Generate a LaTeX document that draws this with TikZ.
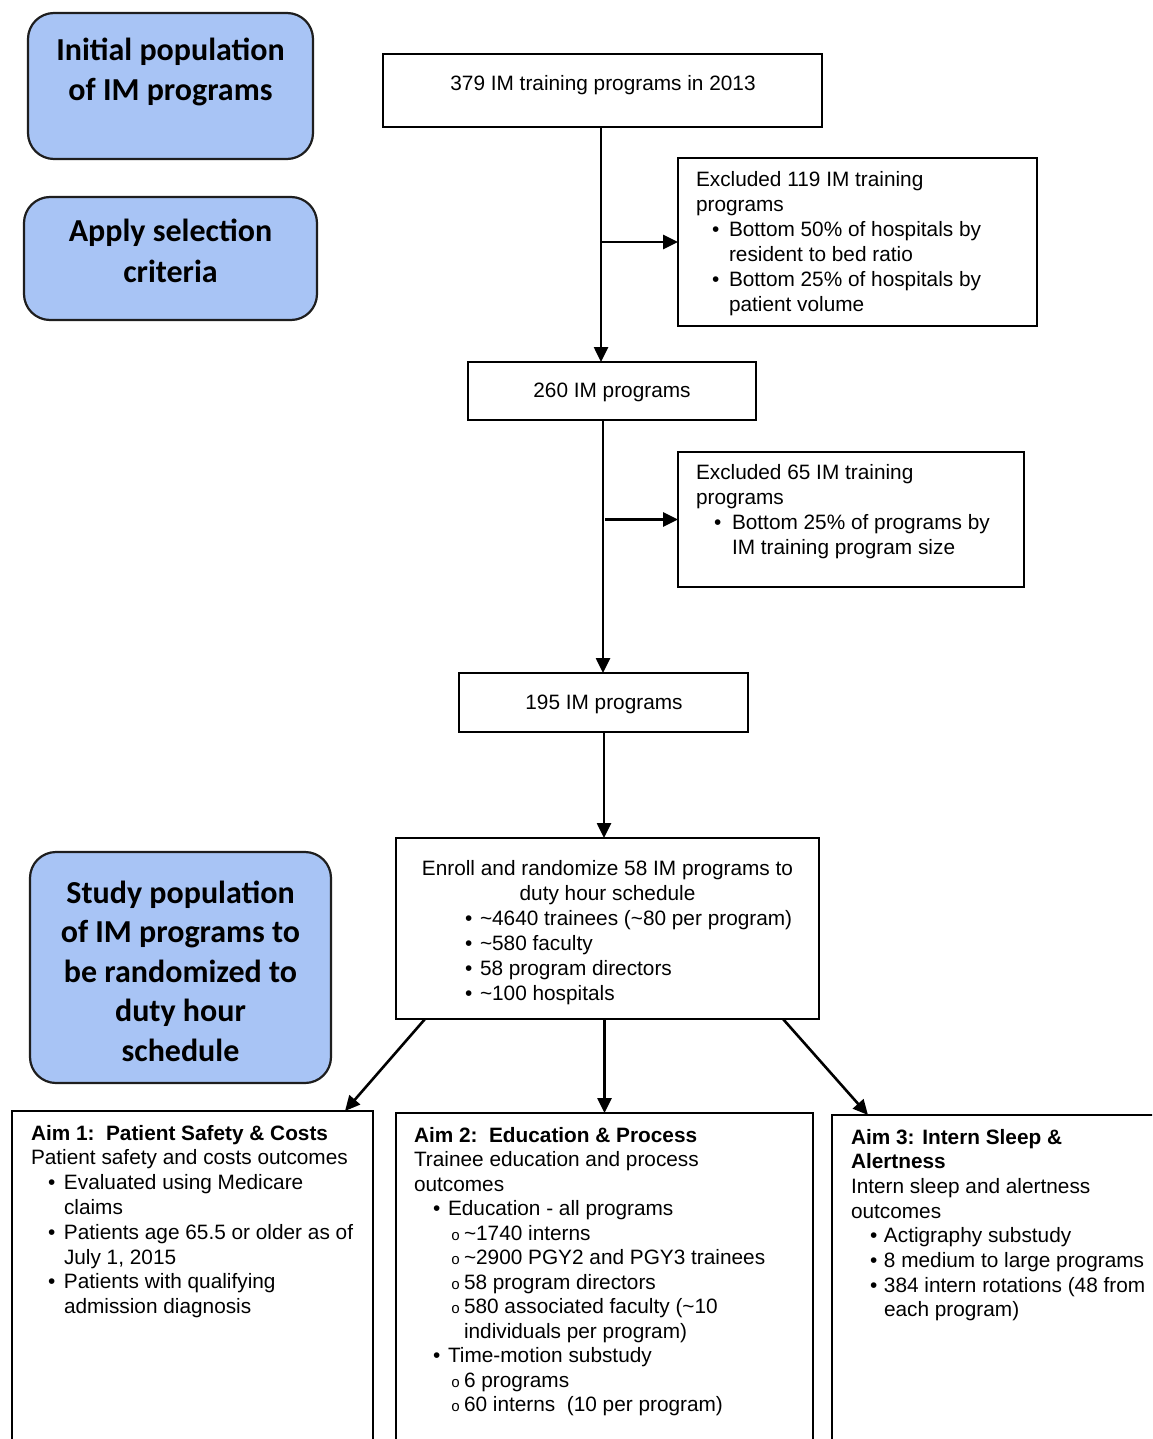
\documentclass[tikz,border=0pt]{standalone}
\usepackage{fontspec}
\setmainfont{Liberation Sans}
\newfontfamily\calibrifont{Carlito}
\newfontfamily\monofnt{Liberation Mono}
\usetikzlibrary{arrows.meta}
\definecolor{bluefill}{RGB}{168,196,245}
\definecolor{bordergray}{RGB}{30,30,30}
\newcommand{\cen}[2]{\vtop{\baselineskip=#1\lineskiplimit=-\maxdimen\halign{\hfil##\hfil\cr#2\crcr}}}
\newcommand{\lft}[2]{\vtop{\baselineskip=#1\lineskiplimit=-\maxdimen\halign{##\hfil\cr#2\crcr}}}
\newcommand{\bu}{\rlap{\char"2022}}
\newcommand{\sbu}{\rlap{\raisebox{0pt}{\monofnt\fontsize{15}{15}\selectfont o}}}
\newcommand{\tl}{\textasciitilde}
\begin{document}
\begin{tikzpicture}[x=1pt,y=-1pt,
  box/.style={draw=black,line width=2.6pt,inner sep=0pt,outer sep=0pt},
  bluebox/.style={draw=bordergray,fill=bluefill,line width=2.2pt,rounded corners=26pt,inner sep=0pt,outer sep=0pt},
  txt/.style={anchor=base west,inner sep=0pt,outer sep=0pt,font=\fontsize{20.8}{25}\selectfont},
  ctxt/.style={anchor=base,inner sep=0pt,outer sep=0pt,font=\fontsize{20.8}{25}\selectfont},
  btxt/.style={anchor=base,inner sep=0pt,outer sep=0pt,font=\calibrifont\bfseries\fontsize{32}{40}\selectfont},
  arr/.style={line width=2.6pt,-{Triangle[length=15pt,width=14pt]}},
  lnk/.style={line width=2.6pt}]
\clip (0,0) rectangle (1152,1439);
\fill[white] (0,0) rectangle (1152,1439);

% blue side boxes
\node[bluebox,minimum width=285pt,minimum height=146pt] (b1) at (170.5,86) {};
\node[btxt] (b1t) at (170.5,61) {\cen{40pt}{Initial population\cr of IM programs}};
\node[bluebox,minimum width=293pt,minimum height=123pt] (b2) at (170.5,258.5) {};
\node[btxt] (b2t) at (170.5,242) {\cen{40pt}{Apply selection\cr criteria}};
\node[bluebox,minimum width=301pt,minimum height=231pt] (b3) at (180.5,967.5) {};
\node[btxt] (b3t) at (180.5,903) {\cen{39.5pt}{Study population\cr of IM programs to\cr be randomized to\cr duty hour\cr schedule}};

% flow boxes
\node[box,minimum width=439pt,minimum height=73pt] (a) at (602.5,90.5) {};
\node[ctxt] (at) at (603,91) {379 IM training programs in 2013};

\node[box,minimum width=359pt,minimum height=168pt] (e1) at (857.5,242) {};
\node[txt] (e1t) at (696,187) {\lft{25pt}{Excluded 119 IM training\cr programs\cr
\kern16pt\bu\kern17pt Bottom 50\% of hospitals by\cr
\kern33pt resident to bed ratio\cr
\kern16pt\bu\kern17pt Bottom 25\% of hospitals by\cr
\kern33pt patient volume}};

\node[box,minimum width=288pt,minimum height=58pt] (n260) at (612,391) {};
\node[ctxt] (n260t) at (612,397) {260 IM programs};

\node[box,minimum width=346pt,minimum height=135pt] (e2) at (851,519.5) {};
\node[txt] (e2t) at (696,479) {\lft{25pt}{Excluded 65 IM training\cr programs\cr
\kern18pt\bu\kern18pt Bottom 25\% of programs by\cr
\kern36pt IM training program size}};

\node[box,minimum width=289pt,minimum height=59pt] (n195) at (603.5,702.5) {};
\node[ctxt] (n195t) at (604,709) {195 IM programs};

\node[box,minimum width=423pt,minimum height=181pt] (en) at (607.5,928.5) {};
\node[txt] (ent) at (396,875) {\lft{25pt}{\hbox to 423pt{\hfil Enroll and randomize 58 IM programs to\hfil}\cr
\hbox to 423pt{\hfil duty hour schedule\hfil}\cr
\kern69pt\bu\kern15pt \tl4640 trainees (\tl80 per program)\cr
\kern69pt\bu\kern15pt \tl580 faculty\cr
\kern69pt\bu\kern15pt 58 program directors\cr
\kern69pt\bu\kern15pt \tl100 hospitals}};

% aim boxes
\node[box,minimum width=361pt,minimum height=369pt] (aim1) at (192.5,1295.5) {};
\node[txt] (aim1t) at (31,1140) {\lft{24.8pt}{\textbf{Aim 1:\ \ Patient Safety \& Costs}\cr
Patient safety and costs outcomes\cr
\kern17pt\bu\kern16pt Evaluated using Medicare\cr
\kern33pt claims\cr
\kern17pt\bu\kern16pt Patients age 65.5 or older as of\cr
\kern33pt July 1, 2015\cr
\kern17pt\bu\kern16pt Patients with qualifying\cr
\kern33pt admission diagnosis}};

\node[box,minimum width=417pt,minimum height=367pt] (aim2) at (604.5,1296.5) {};
\node[txt] (aim2t) at (414,1142) {\lft{24.5pt}{\textbf{Aim 2:\ \ Education \& Process}\cr
Trainee education and process\cr
outcomes\cr
\kern19pt\bu\kern15pt Education - all programs\cr
\kern37pt\sbu\kern13pt \tl1740 interns\cr
\kern37pt\sbu\kern13pt \tl2900 PGY2 and PGY3 trainees\cr
\kern37pt\sbu\kern13pt 58 program directors\cr
\kern37pt\sbu\kern13pt 580 associated faculty (\tl10\cr
\kern50pt individuals per program)\cr
\kern19pt\bu\kern15pt Time-motion substudy\cr
\kern37pt\sbu\kern13pt 6 programs\cr
\kern37pt\sbu\kern13pt 60 interns\ \ (10 per program)}};

\node[box,minimum width=368pt,minimum height=365pt] (aim3) at (1016,1297.5) {};
\node[txt] (aim3t) at (851,1144) {\lft{24.7pt}{\textbf{Aim 3: Intern Sleep \&}\cr
\textbf{Alertness}\cr
Intern sleep and alertness\cr
outcomes\cr
\kern19pt\bu\kern14pt Actigraphy substudy\cr
\kern19pt\bu\kern14pt 8 medium to large programs\cr
\kern19pt\bu\kern14pt 384 intern rotations (48 from\cr
\kern33pt each program)}};

% connectors
\coordinate (v1) at (601,0);
\coordinate (v2) at (603,0);
\coordinate (v3) at (604,0);
\coordinate (v4) at (605,0);
\draw[arr] (a.south -| v1) -- (n260.north -| v1);
\draw[arr] (v1 |- e1.west) -- (e1.west);
\draw[arr] (n260.south -| v2) -- (n195.north -| v2);
\draw[arr] (v4 |- e2.west) -- (e2.west);
\draw[arr] (n195.south -| v3) -- (en.north -| v3);
\draw[arr] ([xshift=29pt]en.south west) -- ([xshift=-28pt]aim1.north east);
\draw[arr] (en.south -| aim2.north) -- (aim2.north);
\draw[arr] ([xshift=-36pt]en.south east) -- ([xshift=36pt]aim3.north west);
\end{tikzpicture}
\end{document}
